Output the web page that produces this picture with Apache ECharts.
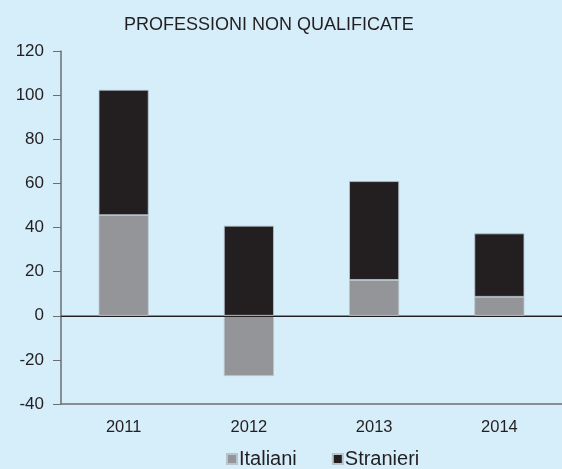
<!DOCTYPE html>
<html>
<head>
<meta charset="utf-8">
<script src="https://cdn.jsdelivr.net/npm/echarts@6/dist/echarts.min.js"></script>
<style>
  html, body { margin: 0; padding: 0; background: #d6edfa; }
  #chart { width: 562px; height: 469px; }
</style>
</head>
<body>
<div id="chart"></div>
<script>
  // dati
  const anni = ['2011', '2012', '2013', '2014'];
  const italiani = [45.6, -27.3, 16.2, 8.6];
  const stranieri = [56.8, 40.8, 44.8, 28.7];
  const yTicks = { min: -40, max: 120, interval: 20 };

  const chart = echarts.init(document.getElementById('chart'));
  const txt = '#231f20';
  const axisGray = '#6d6e71';
  const font = 'Liberation Sans, Arial, sans-serif';

  chart.setOption({
    backgroundColor: '#d6edfa',
    textStyle: { fontFamily: font, color: txt },
    title: {
      text: 'PROFESSIONI NON QUALIFICATE',
      left: 124,
      top: 16,
      padding: 0,
      textStyle: { fontSize: 18, fontWeight: 'normal', color: txt, fontFamily: font }
    },
    legend: {
      top: 449,
      left: 226,
      padding: 0,
      itemWidth: 10,
      itemHeight: 10,
      itemGap: 35,
      icon: 'rect',
      textStyle: { fontSize: 20, color: txt, padding: [0, 0, 0, -3] },
      data: ['Italiani', 'Stranieri']
    },
    grid: { left: 61, right: -11, top: 51, bottom: 65 },
    xAxis: [{
      type: 'category',
      data: anni,
      position: 'bottom',
      axisLine: { onZero: false, lineStyle: { color: axisGray, width: 1.5 } },
      axisTick: { show: false },
      axisLabel: { fontSize: 16.5, color: txt, margin: 15 }
    }, {
      type: 'category',
      data: anni,
      position: 'top',
      axisLine: { show: true, lineStyle: { color: axisGray, width: 1.5 } },
      axisTick: { show: false },
      axisLabel: { show: false }
    }],
    yAxis: {
      type: 'value',
      min: yTicks.min,
      max: yTicks.max,
      interval: yTicks.interval,
      axisLine: { show: true, lineStyle: { color: axisGray, width: 1.5 } },
      axisTick: { show: true, length: 8, lineStyle: { color: axisGray } },
      axisLabel: { fontSize: 17, color: txt, margin: 17 },
      splitLine: { show: false }
    },
    series: [{
      name: 'Italiani',
      type: 'bar',
      stack: 'tot',
      data: italiani,
      barWidth: 50,
      itemStyle: { color: '#939598', borderColor: '#b8c3cb', borderWidth: 0.8 },
      markLine: {
        silent: true,
        symbol: 'none',
        label: { show: false },
        lineStyle: { color: txt, width: 1.2, type: 'solid' },
        data: [{ yAxis: 0 }]
      }
    }, {
      name: 'Stranieri',
      type: 'bar',
      stack: 'tot',
      data: stranieri,
      barWidth: 50,
      itemStyle: { color: '#231f20', borderColor: '#b8c3cb', borderWidth: 0.8 }
    }]
  });
</script>
</body>
</html>
